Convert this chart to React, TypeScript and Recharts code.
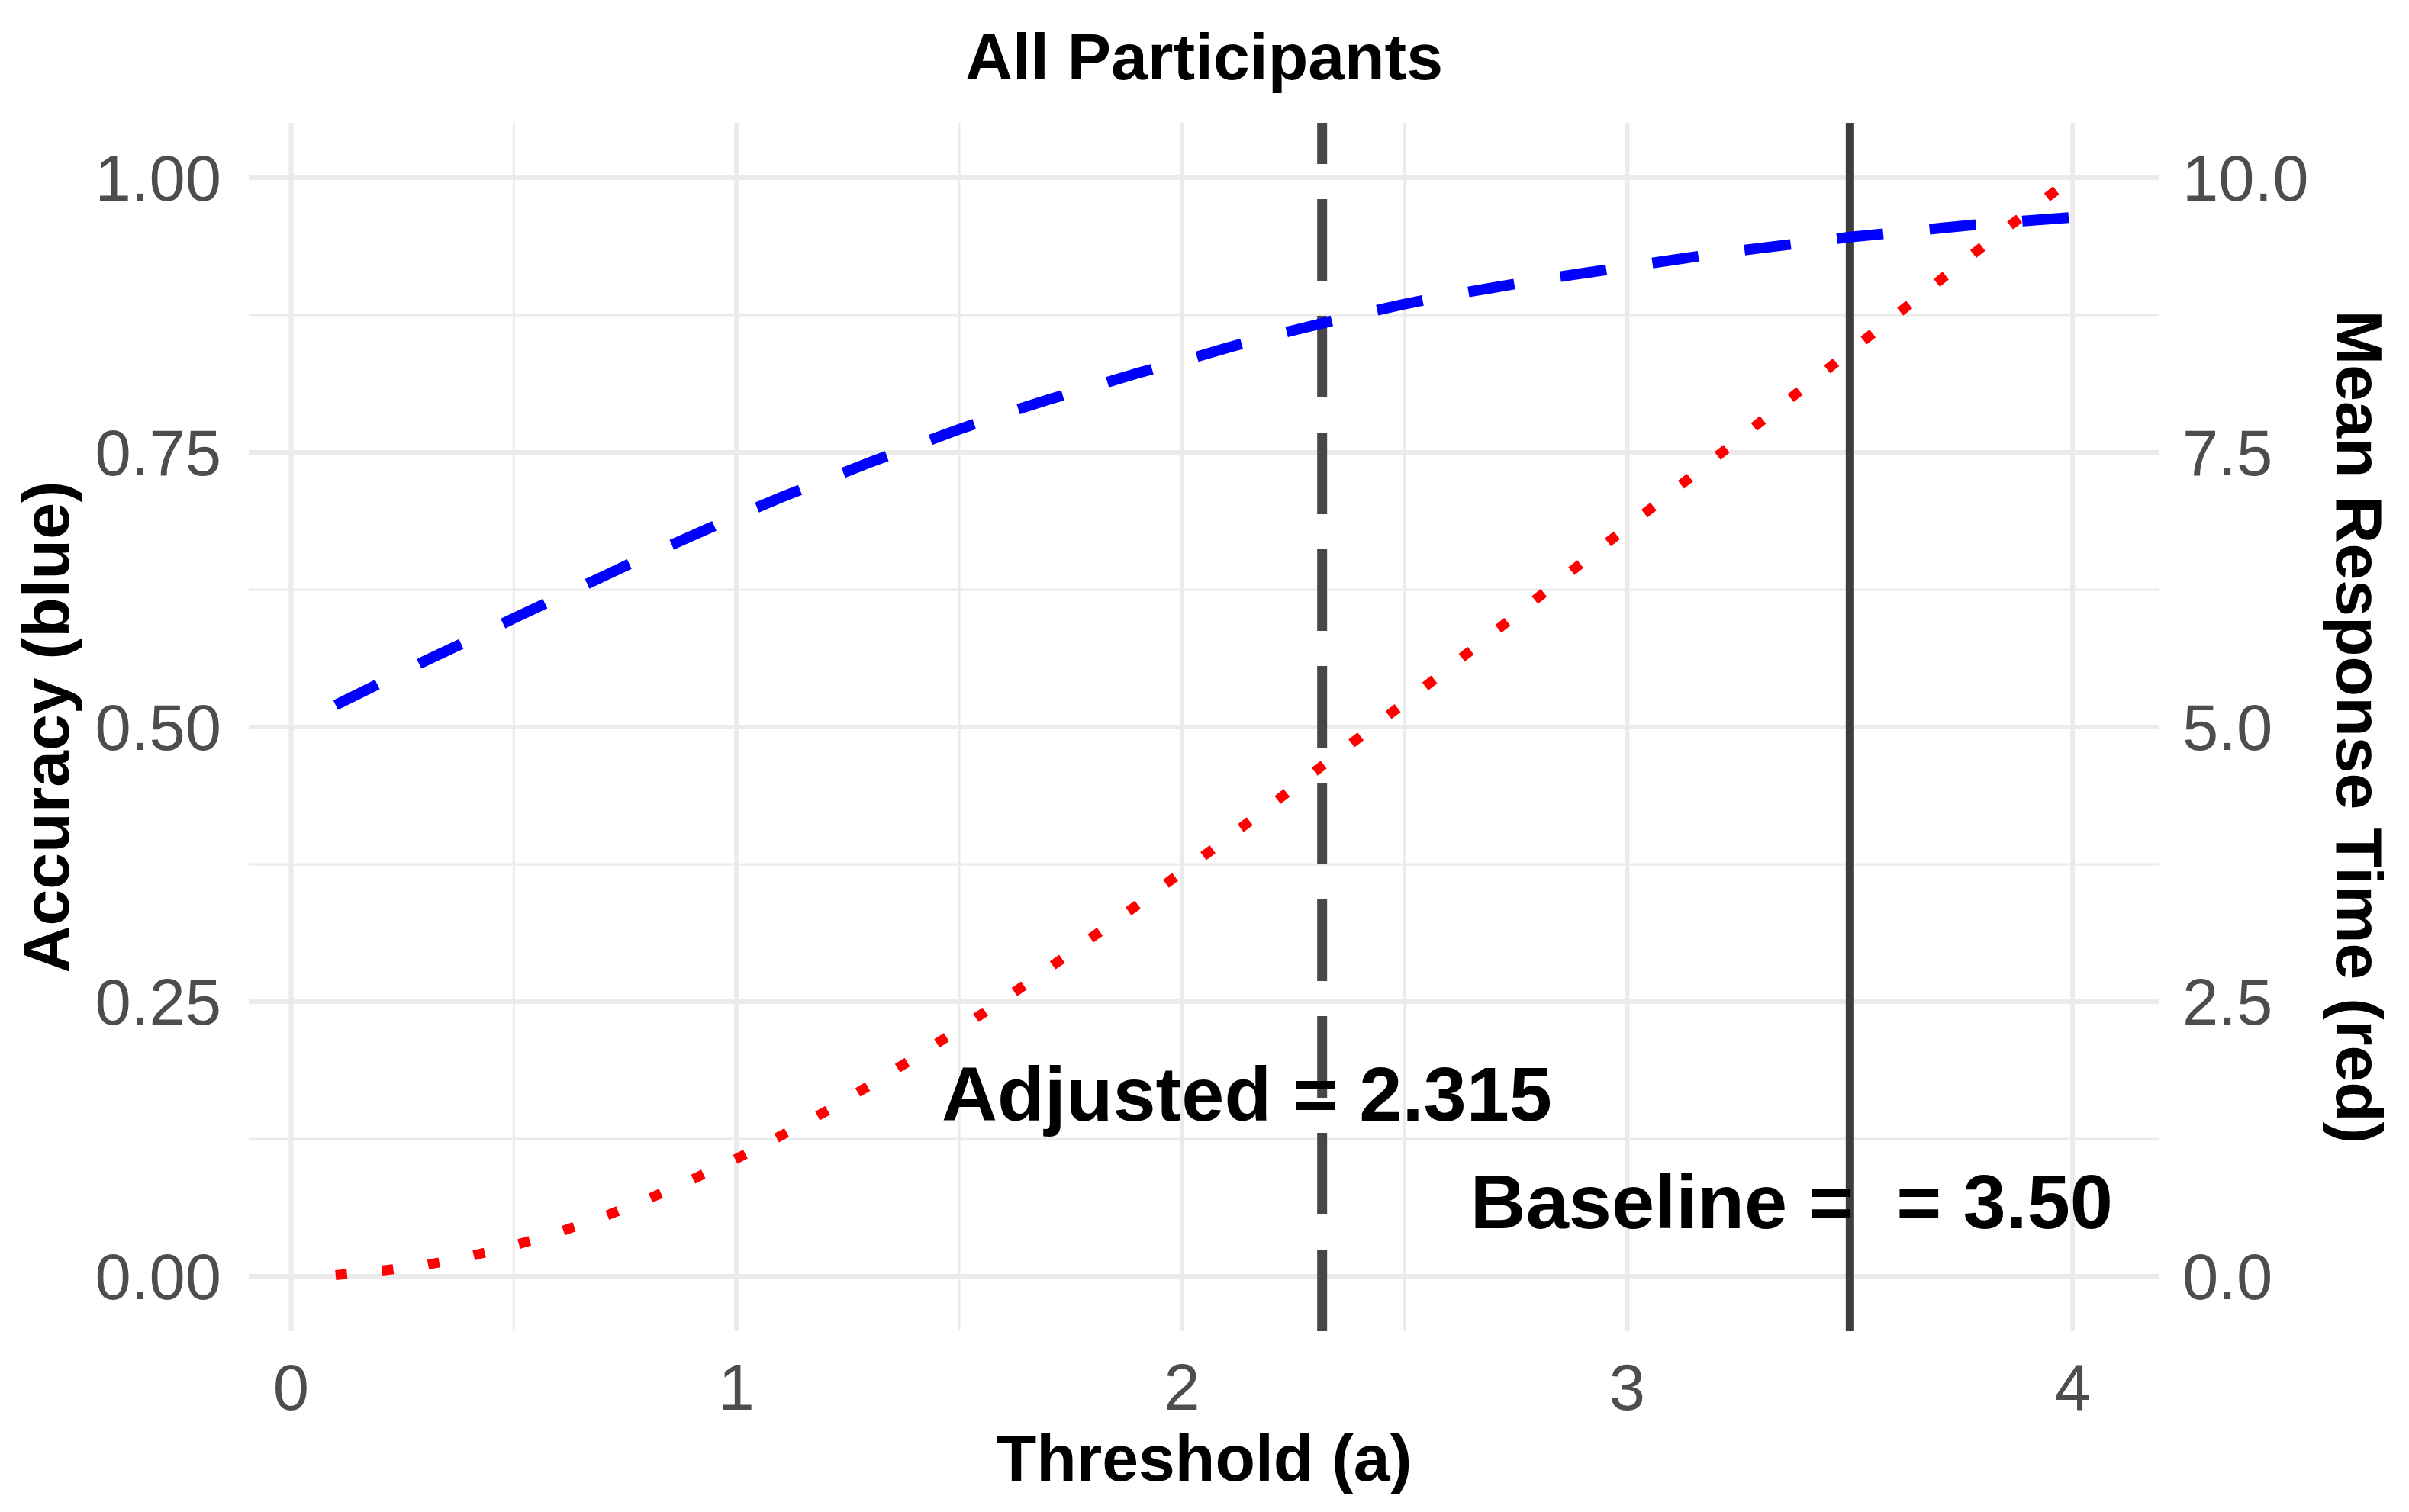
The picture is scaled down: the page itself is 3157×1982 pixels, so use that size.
import React from "react";
import {
  LineChart,
  Line,
  XAxis,
  YAxis,
  ReferenceLine,
  ReferenceDot,
} from "recharts";

// threshold values (a) the curves were evaluated at
const thresholds = [
  0.1, 0.2, 0.3, 0.4, 0.5, 0.6, 0.7, 0.8, 0.9, 1.0,
  1.1, 1.2, 1.3, 1.4, 1.5, 1.6, 1.7, 1.8, 1.9, 2.0,
  2.1, 2.2, 2.3, 2.4, 2.5, 2.6, 2.7, 2.8, 2.9, 3.0,
  3.1, 3.2, 3.3, 3.4, 3.5, 3.6, 3.7, 3.8, 3.9, 4.0,
];

// accuracy (left axis)
const accuracy = [
  0.520, 0.540, 0.560, 0.579, 0.599, 0.618, 0.637, 0.656, 0.674, 0.692,
  0.709, 0.725, 0.741, 0.756, 0.771, 0.785, 0.798, 0.810, 0.822, 0.833,
  0.845, 0.856, 0.866, 0.876, 0.885, 0.893, 0.900, 0.907, 0.913, 0.919,
  0.925, 0.931, 0.936, 0.941, 0.946, 0.950, 0.954, 0.958, 0.961, 0.964,
];

// mean response time (right axis)
const meanRT = [
  0.01, 0.05, 0.10, 0.18, 0.28, 0.40, 0.54, 0.70, 0.88, 1.07,
  1.28, 1.50, 1.74, 1.99, 2.25, 2.52, 2.80, 3.09, 3.38, 3.68,
  3.98, 4.29, 4.60, 4.91, 5.22, 5.54, 5.86, 6.18, 6.50, 6.82,
  7.14, 7.46, 7.78, 8.10, 8.42, 8.74, 9.06, 9.38, 9.69, 10.0,
];

const xTicks = [0, 1, 2, 3, 4];
const xMinor = [0.5, 1.5, 2.5, 3.5];
const accTicks = [0, 0.25, 0.5, 0.75, 1];
const accMinor = [0.125, 0.375, 0.625, 0.875];
const rtTicks = [0, 2.5, 5, 7.5, 10];

const adjustedA = 2.315;
const baselineA = 3.5;

const chartData = thresholds.map((a, i) => ({
  threshold: a,
  accuracy: accuracy[i],
  rt: meanRT[i],
}));

const FONT = "'Liberation Sans', Arial, Helvetica, sans-serif";
const GRID = "#EBEBEB";
const tickStyle = { fill: "#4D4D4D", fontSize: 85, fontFamily: FONT };
const titleStyle = { fill: "#000000", fontSize: 86, fontWeight: 700, fontFamily: FONT };

function annotation(text: string) {
  return (props: any) => {
    const vb = props.viewBox || {};
    const cx = vb.x + (vb.width || 0) / 2;
    const cy = vb.y + (vb.height || 0) / 2;
    return (
      <text
        x={cx}
        y={cy}
        textAnchor="middle"
        dominantBaseline="central"
        fill="#000000"
        fontSize={101}
        fontWeight={700}
        fontFamily={FONT}
        style={{ whiteSpace: "pre" }}
      >
        {text}
      </text>
    );
  };
}

const leftTitle = (props: any) => {
  const vb = props.viewBox;
  const x = vb.x + 60;
  const y = vb.y + vb.height / 2;
  return (
    <text x={x} y={y} transform={`rotate(-90 ${x} ${y})`} textAnchor="middle" dominantBaseline="central" {...titleStyle}>
      Accuracy (blue)
    </text>
  );
};

const rightTitle = (props: any) => {
  const vb = props.viewBox;
  const x = vb.x + 262;
  const y = vb.y + vb.height / 2;
  return (
    <text x={x} y={y} transform={`rotate(90 ${x} ${y})`} textAnchor="middle" dominantBaseline="central" {...titleStyle}>
      Mean Response Time (red)
    </text>
  );
};

const bottomTitle = (props: any) => {
  const vb = props.viewBox;
  return (
    <text x={vb.x + vb.width / 2} y={vb.y + 196} textAnchor="middle" {...titleStyle}>
      Threshold (a)
    </text>
  );
};

export default function App() {
  return (
    <div style={{ position: "absolute", left: 0, top: 0, width: 3157, height: 1982, background: "#fff" }}>
      <LineChart
        width={3157}
        height={1982}
        data={chartData}
        margin={{ top: 161, right: 0, bottom: 0, left: 0 }}
      >
        {/* minor grid first, major on top (ggplot theme_minimal) */}
        {xMinor.map((v) => (
          <ReferenceLine key={`vx${v}`} x={v} yAxisId="acc" stroke={GRID} strokeWidth={3} />
        ))}
        {accMinor.map((v) => (
          <ReferenceLine key={`hy${v}`} y={v} yAxisId="acc" stroke={GRID} strokeWidth={3} />
        ))}
        {xTicks.map((v) => (
          <ReferenceLine key={`VX${v}`} x={v} yAxisId="acc" stroke={GRID} strokeWidth={6} />
        ))}
        {accTicks.map((v) => (
          <ReferenceLine key={`HY${v}`} y={v} yAxisId="acc" stroke={GRID} strokeWidth={6} />
        ))}
        <XAxis
          dataKey="threshold"
          type="number"
          domain={[-0.095, 4.195]}
          ticks={xTicks}
          interval={0}
          allowDataOverflow
          height={237}
          axisLine={false}
          tickLine={false}
          tickSize={0}
          tickMargin={43}
          tick={tickStyle}
          label={{ content: bottomTitle }}
        />
        <YAxis
          yAxisId="acc"
          orientation="left"
          type="number"
          domain={[-0.05, 1.05]}
          ticks={accTicks}
          interval={0}
          allowDataOverflow
          width={326}
          axisLine={false}
          tickLine={false}
          tickSize={0}
          tickMargin={36}
          tick={tickStyle}
          tickFormatter={(v: number) => v.toFixed(2)}
          label={{ content: leftTitle }}
        />
        <YAxis
          yAxisId="rt"
          orientation="right"
          type="number"
          domain={[-0.5, 10.5]}
          ticks={rtTicks}
          interval={0}
          allowDataOverflow
          width={327}
          axisLine={false}
          tickLine={false}
          tickSize={0}
          tickMargin={30}
          tick={tickStyle}
          tickFormatter={(v: number) => v.toFixed(1)}
          label={{ content: rightTitle }}
        />
        <ReferenceDot
          x={2.146}
          y={0.166}
          yAxisId="acc"
          r={0}
          fill="none"
          stroke="none"
          label={annotation("Adjusted = 2.315")}
        />
        <ReferenceDot
          x={3.369}
          y={0.068}
          yAxisId="acc"
          r={0}
          fill="none"
          stroke="none"
          label={annotation("Baseline =  = 3.50")}
        />
        <ReferenceLine
          x={adjustedA}
          yAxisId="acc"
          stroke="#474747"
          strokeWidth={13}
          strokeDasharray="107 46"
        />
        <ReferenceLine x={baselineA} yAxisId="acc" stroke="#3D3D3D" strokeWidth={11} />
        <Line
          yAxisId="acc"
          type="linear"
          dataKey="accuracy"
          stroke="#0000FF"
          strokeWidth={14}
          strokeDasharray="61 61"
          dot={false}
          activeDot={false}
          isAnimationActive={false}
        />
        <Line
          yAxisId="rt"
          type="linear"
          dataKey="rt"
          stroke="#FF0000"
          strokeWidth={13}
          strokeDasharray="15 46"
          dot={false}
          activeDot={false}
          isAnimationActive={false}
        />
      </LineChart>
      <svg
        width={3157}
        height={200}
        style={{ position: "absolute", left: 0, top: 0, pointerEvents: "none" }}
      >
        <text x={1578} y={104} textAnchor="middle" {...titleStyle}>
          All Participants
        </text>
      </svg>
    </div>
  );
}
